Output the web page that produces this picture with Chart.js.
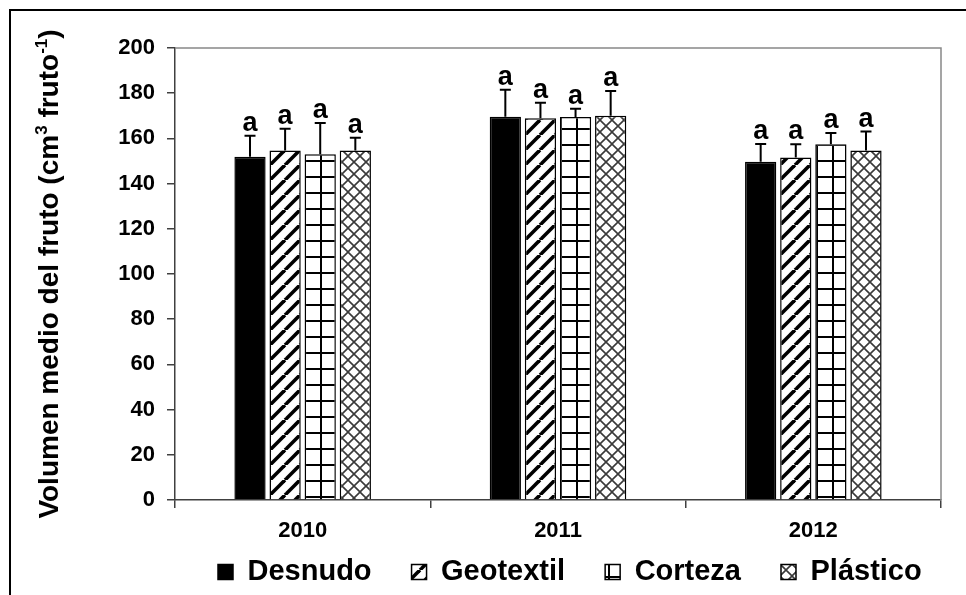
<!DOCTYPE html>
<html>
<head>
<meta charset="utf-8">
<script src="https://cdn.jsdelivr.net/npm/chart.js@4.4.1/dist/chart.umd.min.js"></script>
<style>
  html, body { margin: 0; padding: 0; background: #fff; }
  #wrap { width: 966px; height: 595px; }
</style>
</head>
<body>
<div id="wrap"><canvas id="chart" width="966" height="595"></canvas></div>
<script>
// mean fruit volume per treatment and year, with standard error
const years = ['2010', '2011', '2012'];
const treatments = ['Desnudo', 'Geotextil', 'Corteza', 'Plástico'];
const desnudo = [151.9, 169.6, 149.7];
const geotextil = [154.7, 168.9, 151.6];
const corteza = [153.0, 169.5, 157.4];
const plastico = [154.7, 170.0, 154.6];
const desnudoErr = [9.3, 11.9, 7.8];
const geotextilErr = [9.6, 6.9, 5.8];
const cortezaErr = [13.8, 3.6, 5.0];
const plasticoErr = [5.6, 11.0, 8.4];
// significance letters (Tukey) above each bar
const desnudoSig = ['a', 'a', 'a'];
const geotextilSig = ['a', 'a', 'a'];
const cortezaSig = ['a', 'a', 'a'];
const plasticoSig = ['a', 'a', 'a'];

const FONT = '"Liberation Sans", Arial, sans-serif';

function makePattern(kind) {
  const size = kind === 'cross' ? 12 : (kind === 'grid' ? 16 : 15);
  const c = document.createElement('canvas');
  c.width = size; c.height = size;
  const g = c.getContext('2d');
  g.fillStyle = '#fff';
  g.fillRect(0, 0, size, size);
  if (kind === 'diag') {
    g.strokeStyle = '#000';
    g.lineWidth = 3.6;
    for (const k of [-size, 0, size]) {
      g.beginPath();
      g.moveTo(k, size);
      g.lineTo(k + size, 0);
      g.stroke();
    }
  } else if (kind === 'grid') {
    g.fillStyle = '#000';
    g.fillRect(0, 0, size, 2);
    g.fillRect(0, 0, 2, size);
  } else if (kind === 'cross') {
    g.strokeStyle = '#3a3a3a';
    g.lineWidth = 1.6;
    for (const k of [-size, 0, size]) {
      g.beginPath();
      g.moveTo(k, 0); g.lineTo(k + size, size);
      g.moveTo(k, size); g.lineTo(k + size, 0);
      g.stroke();
    }
  }
  return g.createPattern(c, 'repeat');
}

const series = [
  { label: treatments[0], data: desnudo, err: desnudoErr, sig: desnudoSig, fill: '#000' },
  { label: treatments[1], data: geotextil, err: geotextilErr, sig: geotextilSig, fill: makePattern('diag') },
  { label: treatments[2], data: corteza, err: cortezaErr, sig: cortezaSig, fill: makePattern('grid') },
  { label: treatments[3], data: plastico, err: plasticoErr, sig: plasticoSig, fill: makePattern('cross') }
];

// outer frame and the gray top/right edge of the plot area
const framePlugin = {
  id: 'frame',
  beforeDraw(chart) {
    const ctx = chart.ctx;
    ctx.save();
    ctx.fillStyle = '#fff';
    ctx.fillRect(0, 0, chart.width, chart.height);
    ctx.restore();
  },
  afterDraw(chart) {
    const ctx = chart.ctx;
    const a = chart.chartArea;
    ctx.save();
    ctx.strokeStyle = '#888';
    ctx.lineWidth = 1.5;
    ctx.beginPath();
    ctx.moveTo(a.left, a.top);
    ctx.lineTo(a.right, a.top);
    ctx.lineTo(a.right, a.bottom);
    ctx.stroke();
    ctx.strokeStyle = '#000';
    ctx.lineWidth = 2;
    ctx.beginPath();
    ctx.moveTo(10, chart.height);
    ctx.lineTo(10, 10);
    ctx.lineTo(chart.width, 10);
    ctx.stroke();
    ctx.restore();
  }
};

// error whiskers with caps and the letter over each one
const errorBarPlugin = {
  id: 'errorBars',
  afterDatasetsDraw(chart) {
    const ctx = chart.ctx;
    const y = chart.scales.y;
    ctx.save();
    ctx.strokeStyle = '#000';
    ctx.lineWidth = 2;
    ctx.fillStyle = '#000';
    ctx.font = 'bold 27px ' + FONT;
    ctx.textAlign = 'center';
    ctx.textBaseline = 'alphabetic';
    chart.data.datasets.forEach((ds, di) => {
      const meta = chart.getDatasetMeta(di);
      meta.data.forEach((bar, i) => {
        const top = y.getPixelForValue(ds.data[i] + ds.err[i]);
        ctx.beginPath();
        ctx.moveTo(bar.x, bar.y);
        ctx.lineTo(bar.x, top);
        ctx.moveTo(bar.x - 5.5, top);
        ctx.lineTo(bar.x + 5.5, top);
        ctx.stroke();
        ctx.fillText(ds.sig[i], bar.x, top - 5);
      });
    });
    ctx.restore();
  }
};

// rotated y title with superscripts
const yTitlePlugin = {
  id: 'yTitle',
  afterDraw(chart) {
    const ctx = chart.ctx;
    const a = chart.chartArea;
    const big = 'bold 28px ' + FONT;
    const small = 'bold 17px ' + FONT;
    const parts = [
      { t: 'Volumen medio del fruto (cm', f: big, dy: 0 },
      { t: '3', f: small, dy: -11 },
      { t: ' fruto', f: big, dy: 0 },
      { t: '-1', f: small, dy: -11 },
      { t: ')', f: big, dy: 0 }
    ];
    ctx.save();
    let total = 0;
    parts.forEach(p => { ctx.font = p.f; p.w = ctx.measureText(p.t).width; total += p.w; });
    ctx.translate(58, (a.top + a.bottom) / 2);
    ctx.rotate(-Math.PI / 2);
    ctx.fillStyle = '#000';
    ctx.textBaseline = 'alphabetic';
    ctx.textAlign = 'left';
    let x = -total / 2;
    parts.forEach(p => {
      ctx.font = p.f;
      ctx.fillText(p.t, x, p.dy);
      x += p.w;
    });
    ctx.restore();
  }
};

// place the legend row: start under the plot, text centred at y=572
const legendShiftPlugin = {
  id: 'legendShift',
  afterLayout(chart) {
    const lg = chart.legend;
    const pad = lg.options.labels.padding;
    lg.left = 218 - pad;
    lg.right = lg.left + 2000;
    lg.top = 572 - 14.5 - pad;
    lg.bottom = chart.height;
  }
};

new Chart(document.getElementById('chart'), {
  type: 'bar',
  data: {
    labels: years,
    datasets: series.map(s => ({
      label: s.label,
      data: s.data,
      err: s.err,
      sig: s.sig,
      backgroundColor: s.fill,
      borderColor: '#000',
      borderWidth: 1.5,
      categoryPercentage: 0.55,
      barPercentage: 0.89
    }))
  },
  options: {
    responsive: false,
    animation: false,
    layout: { padding: { left: 0, right: 25, top: 48, bottom: 0 } },
    plugins: {
      tooltip: { enabled: false },
      legend: {
        position: 'bottom',
        align: 'start',
        maxHeight: 50,
        labels: {
          color: '#000',
          font: { family: FONT, size: 29, weight: 'bold' },
          boxWidth: 15,
          boxHeight: 15,
          padding: 40
        }
      }
    },
    scales: {
      x: {
        afterFit(scale) { scale.height = 45; },
        grid: { drawOnChartArea: false, drawTicks: true, tickLength: 8, color: '#404040', lineWidth: 1.5 },
        border: { color: '#404040', width: 1.5 },
        ticks: { color: '#000', font: { family: FONT, size: 22, weight: 'bold' }, padding: 10, maxRotation: 0 }
      },
      y: {
        min: 0,
        max: 200,
        afterFit(scale) { scale.width = 175; },
        grid: { drawOnChartArea: false, drawTicks: true, tickLength: 8, color: '#404040', lineWidth: 1.5 },
        border: { color: '#404040', width: 1.5 },
        ticks: { stepSize: 20, color: '#000', font: { family: FONT, size: 22, weight: 'bold' }, padding: 12 }
      }
    }
  },
  plugins: [framePlugin, errorBarPlugin, yTitlePlugin, legendShiftPlugin]
});
</script>
</body>
</html>
